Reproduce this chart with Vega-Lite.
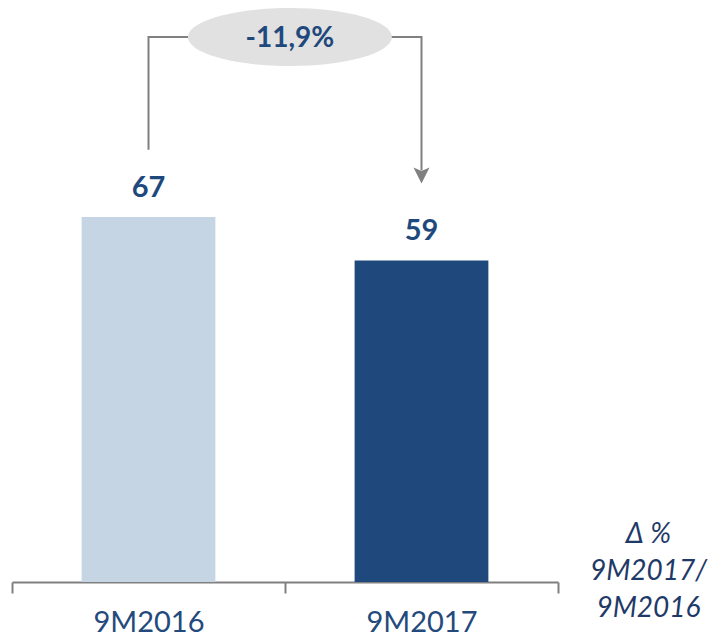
{
  "$schema": "https://vega.github.io/schema/vega-lite/v6.json",
  "autosize": "none",
  "width": 706,
  "height": 582,
  "padding": {"left": 12, "top": 0, "right": 0, "bottom": 51},
  "background": "white",
  "config": {
    "view": {"stroke": null},
    "axisX": {
      "grid": false,
      "domainColor": "#808080",
      "domainWidth": 2,
      "ticks": true,
      "tickColor": "#808080",
      "tickWidth": 2,
      "tickSize": 11,
      "tickBand": "extent",
      "labelFont": "Lato",
      "labelFontSize": 29,
      "labelColor": "#24497C",
      "labelPadding": 15,
      "labelAngle": 0,
      "titleFont": "Lato",
      "titleFontSize": 28,
      "titleFontStyle": "italic",
      "titleFontWeight": "normal",
      "titleColor": "#1F3A68",
      "titleX": 636,
      "titleY": -40,
      "titleAlign": "center",
      "titleBaseline": "alphabetic",
      "titleLineHeight": 37
    }
  },
  "datasets": {
    "bars": [
      {"period": "9M2016", "value": 67},
      {"period": "9M2017", "value": 59}
    ],
    "connector": [
      {"period": "9M2016", "y": 79.3, "o": 1},
      {"period": "9M2016", "y": 100, "o": 2},
      {"period": "9M2017", "y": 100, "o": 3},
      {"period": "9M2017", "y": 75.5, "o": 4}
    ],
    "arrowhead": [
      {"period": "9M2017", "y": 74.6}
    ],
    "bubble": [
      {"period": "9M2016", "y": 100, "label": "-11,9%"}
    ]
  },
  "encoding": {
    "x": {
      "field": "period",
      "type": "nominal",
      "sort": ["9M2016", "9M2017"],
      "scale": {"type": "band", "range": [0, 546], "paddingInner": 0, "paddingOuter": 0},
      "title": ["Δ %", "9M2017/", "9M2016"]
    }
  },
  "layer": [
    {
      "data": {"name": "bars"},
      "mark": {"type": "bar", "width": {"band": 0.49}},
      "encoding": {
        "y": {"field": "value", "type": "quantitative", "scale": {"domain": [0, 106.8], "nice": false}, "axis": null},
        "color": {"field": "period", "type": "nominal", "scale": {"domain": ["9M2016", "9M2017"], "range": ["#C5D5E4", "#1F497D"]}, "legend": null}
      }
    },
    {
      "data": {"name": "bars"},
      "mark": {"type": "text", "dy": -20, "baseline": "alphabetic", "font": "Lato", "fontWeight": "bold", "fontSize": 29, "color": "#1F497D"},
      "encoding": {
        "y": {"field": "value", "type": "quantitative", "axis": null},
        "text": {"field": "value", "type": "quantitative"}
      }
    },
    {
      "data": {"name": "connector"},
      "mark": {"type": "line", "color": "#808080", "strokeWidth": 2},
      "encoding": {
        "y": {"field": "y", "type": "quantitative", "axis": null},
        "order": {"field": "o", "type": "quantitative"}
      }
    },
    {
      "data": {"name": "arrowhead"},
      "mark": {"type": "point", "filled": true, "opacity": 1, "color": "#808080", "shape": "M -1 -1 L 0 1 L 1 -1 L 0 -0.55 Z", "size": 256},
      "encoding": {
        "y": {"field": "y", "type": "quantitative", "axis": null}
      }
    },
    {
      "data": {"name": "bubble"},
      "mark": {"type": "point", "filled": true, "opacity": 1, "color": "#E1E1E1", "shape": "M -1 0 C -1 -0.157 -0.5523 -0.284 0 -0.284 C 0.5523 -0.284 1 -0.157 1 0 C 1 0.157 0.5523 0.284 0 0.284 C -0.5523 0.284 -1 0.157 -1 0 Z", "size": 41616},
      "encoding": {
        "x": {"field": "period", "type": "nominal", "bandPosition": 1.018, "title": ["Δ %", "9M2017/", "9M2016"]},
        "y": {"field": "y", "type": "quantitative", "axis": null}
      }
    },
    {
      "data": {"name": "bubble"},
      "mark": {"type": "text", "dy": 10, "baseline": "alphabetic", "font": "Lato", "fontWeight": "bold", "fontSize": 28, "color": "#1F497D"},
      "encoding": {
        "x": {"field": "period", "type": "nominal", "bandPosition": 1.018, "title": ["Δ %", "9M2017/", "9M2016"]},
        "y": {"field": "y", "type": "quantitative", "axis": null},
        "text": {"field": "label", "type": "nominal"}
      }
    }
  ]
}
